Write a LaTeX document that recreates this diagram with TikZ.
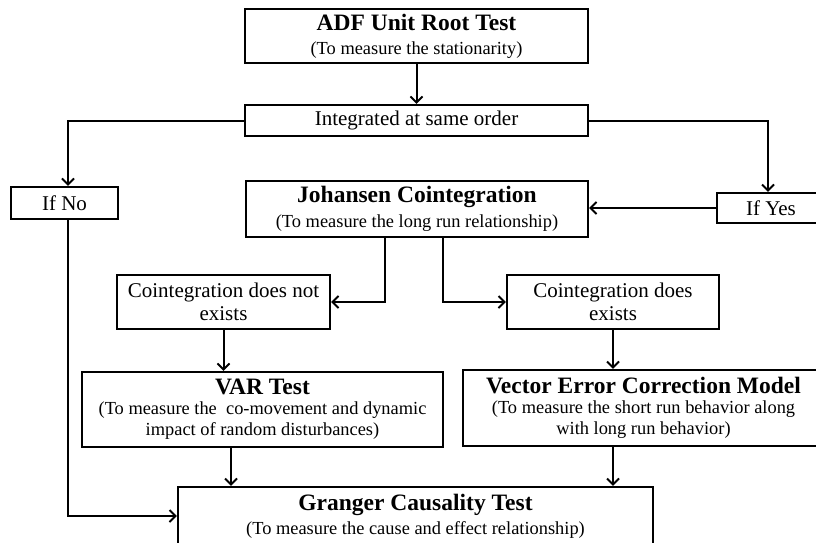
\documentclass[tikz,border=0pt]{standalone}
\usepackage{fontspec}
\setmainfont{Liberation Serif}
\usetikzlibrary{arrows.meta}
\newcommand\hdfont{\fontsize{23.5}{25}\selectfont\bfseries}
\newcommand\subfont{\fontsize{18.4}{21}\selectfont}
\newcommand\lblfont{\fontsize{21}{23}\selectfont}
\tikzset{
  bx/.style 2 args={draw, line width=2.2pt, minimum width=#1, minimum height=#2,
    inner sep=0pt, align=center, text=black},
  arr/.style={line width=2pt, -{Straight Barb[length=6pt,width=12pt,line width=2pt]}}
}
\begin{document}
\begin{tikzpicture}[x=1pt,y=-1pt]
\useasboundingbox (0,0) rectangle (816,542);
\clip (0,0) rectangle (816,542);
\node[bx={343}{54}] (adf) at (416.5,36) {\hdfont ADF Unit Root Test\\[10pt]\subfont (To measure the stationarity)};
\node[bx={343}{31}] (int) at (416.5,120.5) {\lblfont Integrated at same order};
\node[bx={107}{32}] (no) at (64.5,203) {\lblfont If No};
\node[bx={108}{30}] (yes) at (771,208) {\lblfont If Yes};
\node[bx={342}{56}] (joh) at (417,209) {\hdfont Johansen Cointegration\\[6pt]\subfont (To measure the long run relationship)};
\node[bx={213}{54}] (cn) at (223.5,302) {\lblfont Cointegration does not\\[4pt]\lblfont exists};
\node[bx={212}{54}] (cy) at (613,302) {\lblfont Cointegration does\\[4pt]\lblfont exists};
\node[bx={361}{75}] (var) at (262.5,409.5) {\hdfont VAR Test\\[6pt]\subfont (To measure the\ \ co-movement and dynamic\\[3pt]\subfont impact of random disturbances)};
\node[bx={361}{76}] (vec) at (643.5,408) {\hdfont Vector Error Correction Model\\[6pt]\subfont (To measure the short run behavior along\\[3pt]\subfont with long run behavior)};
\node[bx={475}{58}] (gr) at (415.5,516) {\hdfont Granger Causality Test\\[5pt]\subfont (To measure the cause and effect relationship)};

\draw[arr] (adf) -- (int);
\draw[arr] (int.west) -| ([xshift=3.5]no.north);
\draw[arr] (int.east) -| ([xshift=-3]yes.north);
\draw[arr] (yes.west) -- (yes.west -| joh.east);
\draw[arr] ([xshift=-32]joh.south) |- (cn.east);
\draw[arr] ([xshift=26]joh.south) |- (cy.west);
\draw[arr] (cn.south) -- (cn.south |- var.north);
\draw[arr] (cy.south) -- (cy.south |- vec.north);
\draw[arr] ([xshift=-31.5]var.south) -- ([xshift=-31.5]var.south |- gr.north);
\draw[arr] (cy.south |- vec.south) -- (cy.south |- gr.north);
\draw[arr] ([xshift=3.5]no.south) |- (gr.west);
\end{tikzpicture}
\end{document}
